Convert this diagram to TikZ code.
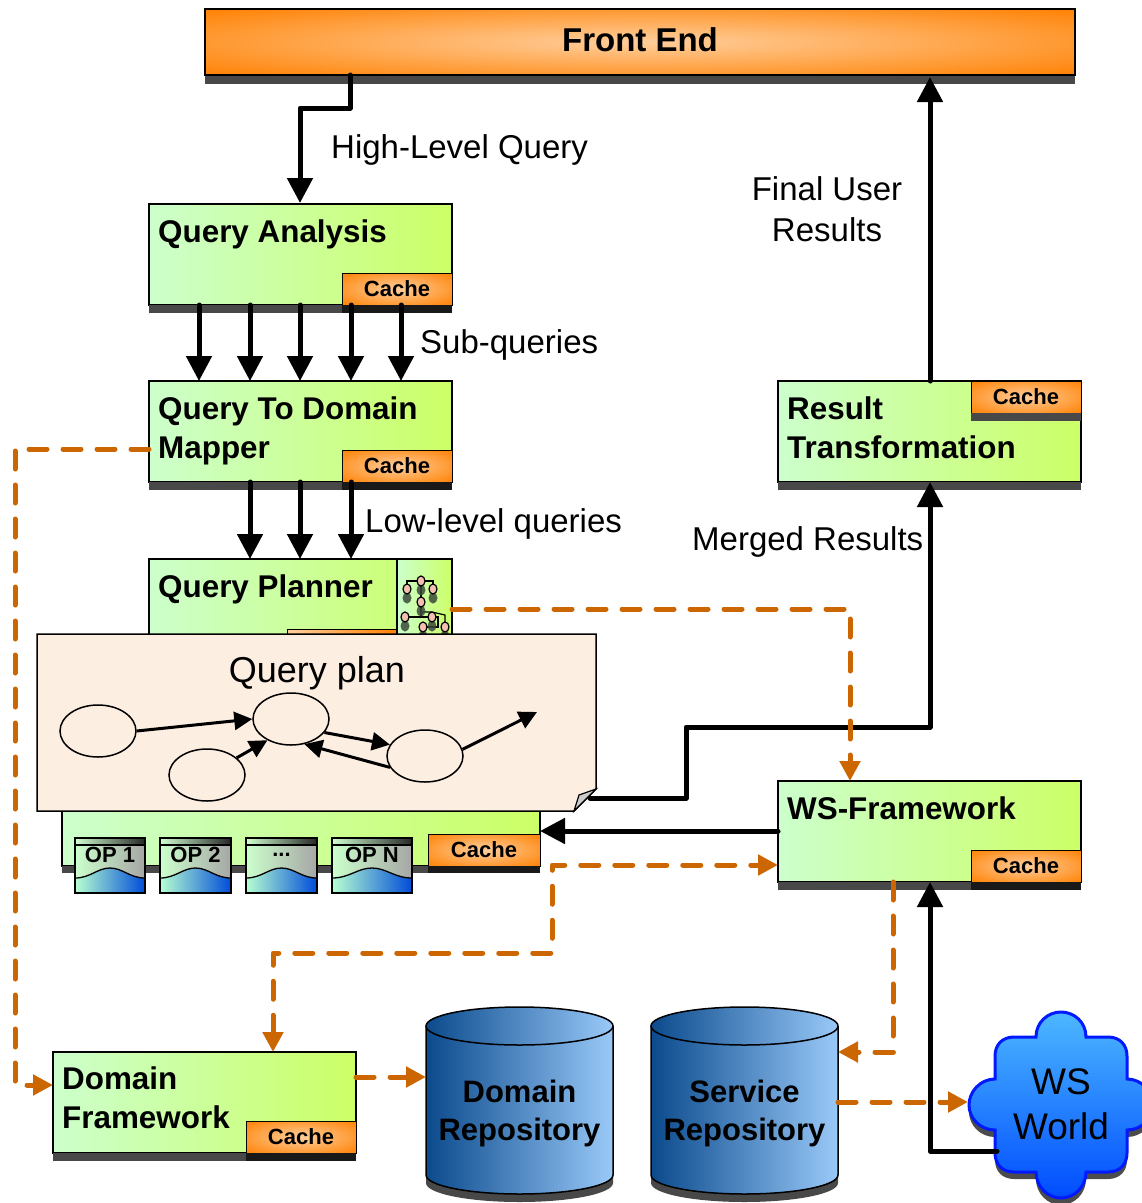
\documentclass[tikz,border=0pt]{standalone}
\usepackage{fontspec}
\setmainfont{Liberation Sans}
\usetikzlibrary{arrows.meta}
\usetikzlibrary{calc}
\usetikzlibrary{shapes.geometric}
\definecolor{boxl}{HTML}{CCFFCC}
\definecolor{boxr}{HTML}{CCFF66}
\definecolor{feouter}{HTML}{FF8000}
\definecolor{feinner}{HTML}{FFCE9C}
\definecolor{barcol}{HTML}{484848}
\definecolor{linkcol}{HTML}{CC6600}
\definecolor{notefill}{HTML}{FDEEE2}
\definecolor{cyldark}{HTML}{0B4A8C}
\definecolor{cyllight}{HTML}{99C9F8}
\definecolor{dotcol}{HTML}{F4C0B0}
\definecolor{dotshade}{HTML}{3A4A3A}
\pgfdeclareradialshading{feglow}{\pgfpointorigin}{color(0bp)=(feinner); color(36bp)=(feouter); color(100bp)=(feouter)}
\newcommand{\opdots}{...}
\tikzset{
    flow/.style={line width=5pt, line join=round, line cap=round, -{Triangle[length=25pt, width=25pt]}},
    plain/.style={line width=3pt, -{Triangle[length=18pt, width=18pt]}},
    link/.style={draw=linkcol, line width=5pt, line join=round, line cap=round, dash pattern=on 18pt off 16pt},
    linktip/.style={link, -{Triangle[length=20pt, width=20pt]}},
    box/.style={draw=black, line width=1.6pt, left color=boxl, right color=boxr, inner sep=0pt, outer sep=0pt,
        minimum width=303pt, minimum height=101pt, anchor=north west},
    cachebox/.style={draw=black, line width=1pt, shading=feglow, inner sep=0pt, outer sep=0pt,
        minimum width=110pt, minimum height=32pt, font=\fontsize{22}{27}\selectfont\bfseries},
    title/.style={inner sep=0pt, anchor=north west, align=left, font=\fontsize{31.4}{39}\selectfont\bfseries},
    caption/.style={inner sep=0pt, align=center, font=\fontsize{33}{41}\selectfont},
    planstep/.style={draw=black, line width=1.5pt, ellipse, minimum width=76pt, minimum height=52pt, inner sep=0pt},
    cylname/.style={inner sep=0pt, align=center, font=\fontsize{31}{38}\selectfont\bfseries},
}
\newcommand{\cloudoutline}{
    (1036,1037) .. controls (1036,1022) and (1048,1012) .. (1061,1012)
    .. controls (1074,1012) and (1086,1022) .. (1086,1037)
    -- (1108,1037) .. controls (1120,1037) and (1127,1045) .. (1127,1056) -- (1127,1079)
    .. controls (1142,1079) and (1153,1092) .. (1153,1105)
    .. controls (1153,1118) and (1142,1130) .. (1127,1130)
    -- (1127,1153) .. controls (1127,1164) and (1120,1172) .. (1108,1172) -- (1086,1172)
    .. controls (1086,1187) and (1074,1198) .. (1061,1198)
    .. controls (1048,1198) and (1036,1187) .. (1036,1172)
    -- (1014,1172) .. controls (1002,1172) and (995,1164) .. (995,1153) -- (995,1130)
    .. controls (980,1130) and (969,1118) .. (969,1105)
    .. controls (969,1092) and (980,1079) .. (995,1079)
    -- (995,1056) .. controls (995,1045) and (1002,1037) .. (1014,1037) -- cycle
}
\begin{document}
\begin{tikzpicture}[x=1pt, y=-1pt]
    \useasboundingbox (0,0) rectangle (1142,1203);

    \fill[barcol] (205,75) rectangle (1075,84);
    \node[draw=black, line width=1.6pt, shading=feglow, inner sep=0pt, outer sep=0pt,
        minimum width=870pt, minimum height=66pt, anchor=north west] (fe) at (205,9) {};
    \node[inner sep=0pt, font=\fontsize{33}{39}\selectfont\bfseries] (fet) at (640,40) {Front End};

    \node[box] (qa) at (149,204) {};
    \fill[barcol] (qa.south west) rectangle ++(303,8);
    \node[title] (qat) at (158,220) {Query Analysis};
    \node[cachebox, anchor=south east] (qac) at (qa.south east) {Cache};
    \fill[black!90] (qac.south west) rectangle ++(110,8);

    \node[box] (qm) at (149,381) {};
    \fill[barcol] (qm.south west) rectangle ++(303,8);
    \node[title] (qmt) at (158,397) {Query To Domain\\Mapper};
    \node[cachebox, anchor=south east] (qmc) at (qm.south east) {Cache};
    \fill[black!90] (qmc.south west) rectangle ++(110,8);

    \node[box] (rt) at (778,381) {};
    \fill[barcol] (rt.south west) rectangle ++(303,8);
    \node[title] (rtt) at (787,397) {Result\\Transformation};
    \node[cachebox, anchor=north east] (rtc) at (rt.north east) {Cache};
    \fill[barcol] (rtc.south west) rectangle ++(110,8);

    \node[box] (ws) at (778,781) {};
    \fill[barcol] (ws.south west) rectangle ++(303,8);
    \node[title] (wst) at (787,797) {WS-Framework};
    \node[cachebox, anchor=south east] (wsc) at (ws.south east) {Cache};
    \fill[black!90] (wsc.south west) rectangle ++(110,8);

    \node[box] (df) at (53,1052) {};
    \fill[barcol] (df.south west) rectangle ++(303,8);
    \node[title] (dft) at (62,1067) {Domain\\Framework};
    \node[cachebox, anchor=south east] (dfc) at (df.south east) {Cache};
    \fill[black!90] (dfc.south west) rectangle ++(110,8);

    \node[box] (qp) at (149,559) {};
    \node[title] (qpt) at (158,575) {Query Planner};
    \node[draw=black, line width=1pt, left color=feinner, right color=feouter, inner sep=0pt,
        minimum width=110pt, minimum height=12pt, anchor=north west] (qpc) at (287,629) {};
    \node[box, minimum width=55pt, minimum height=80pt] (qpi) at (397,559) {};
    \draw[line width=1.2pt] (407,589) -- (407,581) -- (433,581) -- (433,589);
    \draw[line width=1.2pt] (421,581) -- (421,617);
    \draw[line width=1.2pt] (405,617) -- (432,617);
    \draw[line width=1.2pt] (421,602) -- (421,612) -- (432,612) -- (445,615) -- (445,627);
    \draw[line width=1.2pt] (423,627) -- (438,627) -- (438,617) -- (432,617);
    \foreach \x/\y in {421/581, 407/589, 433/589, 421/602, 405/617, 432/617, 423/627, 445/627} {
        \fill[dotshade, opacity=0.85] (\x,\y+9) ellipse (4.5pt and 5.5pt);
        \draw[fill=dotcol, line width=1.2pt] (\x,\y) ellipse (4pt and 5pt);
    }

    \node[box, minimum width=478pt, minimum height=60pt] (qe) at (62,806) {};
    \fill[barcol] (qe.south west) rectangle ++(478,7);
    \node[cachebox, minimum width=112pt, anchor=south east] (qec) at (qe.south east) {Cache};
    \fill[black!90] (qec.south west) rectangle ++(112,7);
    \foreach \x/\w/\n/\t in {75/70/1/OP 1, 160/71/2/OP 2, 246/71/3/\opdots, 332/80/4/OP N} {
        \begin{scope}[shift={(\x,838)}]
            \path[left color=boxl, right color=black!35] (0,0) rectangle (\w,42);
            \path[left color=boxl!90!white, right color=black!85] (0,0) rectangle (\w,7);
            \path[left color=boxl!90!cyan, right color=blue!65!cyan!85!black]
                (0,40) .. controls ({0.22*\w},40) and ({0.32*\w},30) .. ({0.5*\w},30)
                .. controls ({0.68*\w},30) and ({0.78*\w},40) .. (\w,40)
                -- (\w,55) -- (0,55) -- cycle;
            \draw[line width=1.3pt] (0,40) .. controls ({0.22*\w},40) and ({0.32*\w},30) .. ({0.5*\w},30)
                .. controls ({0.68*\w},30) and ({0.78*\w},40) .. (\w,40);
            \draw[line width=1.3pt] (0,7) -- (\w,7);
            \draw[line width=1.5pt] (0,0) rectangle (\w,55);
            \node[inner sep=0pt, font=\fontsize{22}{27}\selectfont\bfseries] (op\n) at ({0.5*\w},17) {\t};
        \end{scope}
    }

    \draw[line width=1.5pt, fill=notefill] (37,634) -- (596,634) -- (596,789) -- (574,811) -- (37,811) -- cycle;
    \draw[line width=1.2pt, fill=black!20] (596,789) -- (579,795) -- (574,811) -- cycle;
    \node[caption, font=\fontsize{36}{41}\selectfont] (qpl) at (317,673) {Query plan};
    \node[planstep] (e1) at (98,731) {};
    \node[planstep] (e2) at (291,719) {};
    \node[planstep] (e3) at (207,775) {};
    \node[planstep] (e4) at (425,756) {};
    \coordinate (eout) at (537,712);
    \draw[plain] (e1.east) -- (e2.west);
    \draw[plain] (e3.30) -- (e2.222);
    \draw[plain] (e2.-22) -- (e4.162);
    \draw[plain] (e4.198) -- (e2.-62);
    \draw[plain] (e4.10) -- (eout);

    \fill[barcol] (426,1026) -- (426,1183) arc[start angle=180, end angle=360, x radius=93.5pt, y radius=19pt]
        -- (613,1026) -- cycle;
    \draw[line width=1.5pt, left color=cyldark, right color=cyllight] (426,1026) -- (426,1175)
        arc[start angle=180, end angle=360, x radius=93.5pt, y radius=19pt] -- (613,1026);
    \draw[line width=1.5pt, left color=cyldark, right color=cyllight] (519.5,1026) ellipse (93.5pt and 19pt);
    \node[cylname] (dr) at (519.5,1113) {Domain\\Repository};

    \fill[barcol] (651,1026) -- (651,1183) arc[start angle=180, end angle=360, x radius=93.5pt, y radius=19pt]
        -- (838,1026) -- cycle;
    \draw[line width=1.5pt, left color=cyldark, right color=cyllight] (651,1026) -- (651,1175)
        arc[start angle=180, end angle=360, x radius=93.5pt, y radius=19pt] -- (838,1026);
    \draw[line width=1.5pt, left color=cyldark, right color=cyllight] (744.5,1026) ellipse (93.5pt and 19pt);
    \node[cylname] (sr) at (744.5,1113) {Service\\Repository};

    \fill[black!70, shift={(0,7)}] \cloudoutline;
    \draw[draw=blue!90!cyan, line width=3pt, top color=cyan!60!blue!70!white, bottom color=blue!70!cyan] \cloudoutline;
    \node[caption, font=\fontsize{37}{45}\selectfont] (ww) at (1061,1104) {WS\\World};

    \coordinate (fedown) at (350,75);
    \coordinate (febend) at (300,108);
    \coordinate (feup) at (930,77);
    \coordinate (qaup) at (300,203);
    \draw[flow] (fedown) -- (350,108) -- (febend) -- (qaup);
    \foreach \x in {199,250,300,351,401} {
        \draw[flow] (\x,0 |- qa.south) -- (\x,0 |- qm.north);
    }
    \foreach \x in {250,300,351} {
        \draw[flow] (\x,0 |- qm.south) -- (\x,0 |- qp.north);
    }
    \draw[flow] (930,0 |- rt.north) -- (feup);
    \coordinate (plout) at (590,798);
    \draw[flow] (plout) -- (686,798) -- (686,727) -- (930,727) -- (930,0 |- rt.south);
    \coordinate (wsleft) at (ws.west |- 0,831);
    \draw[flow] (wsleft) -- (wsleft -| qe.east);
    \coordinate (wwleft) at (997,1151);
    \draw[flow] (wwleft) -- (930,1151) -- (930,0 |- ws.south);

    \coordinate (qmleft) at (qm.west |- 0,449);
    \coordinate (dfleft) at (df.west |- 0,1085);
    \draw[linktip] (qmleft) -- (15,449) -- (15,1085) -- (dfleft);
    \coordinate (qpright) at (qpi.east |- 0,609);
    \draw[linktip] (qpright) -- (850,609) -- (850,0 |- ws.north);
    \coordinate (wsin) at (ws.west |- 0,865);
    \coordinate (dfup) at (273,0 |- df.north);
    \draw[linktip, {Triangle[length=20pt, width=20pt]}-{Triangle[length=20pt, width=20pt]}]
        (dfup) -- (273,953) -- (552,953) -- (552,865) -- (wsin);
    \coordinate (dfout) at (df.east |- 0,1077);
    \coordinate (drin) at (426,1077);
    \draw[linktip] (dfout) -- (drin);
    \coordinate (wsdown) at (893,882);
    \coordinate (srin) at (838,1052);
    \draw[linktip] (wsdown) -- (893,1052) -- (srin);
    \coordinate (srout) at (838,1102);
    \coordinate (wwin) at (968,1102);
    \draw[linktip] (srout) -- (wwin);

    \node[caption, anchor=base west] (hq) at (331,158) {High-Level Query};
    \node[caption, anchor=base west] (sq) at (420,353) {Sub-queries};
    \node[caption, anchor=base west] (lq) at (365,532) {Low-level queries};
    \node[caption] (fr) at (827,209) {Final User\\Results};
    \node[caption, anchor=base west] (mr) at (692,550) {Merged Results};
\end{tikzpicture}
\end{document}
